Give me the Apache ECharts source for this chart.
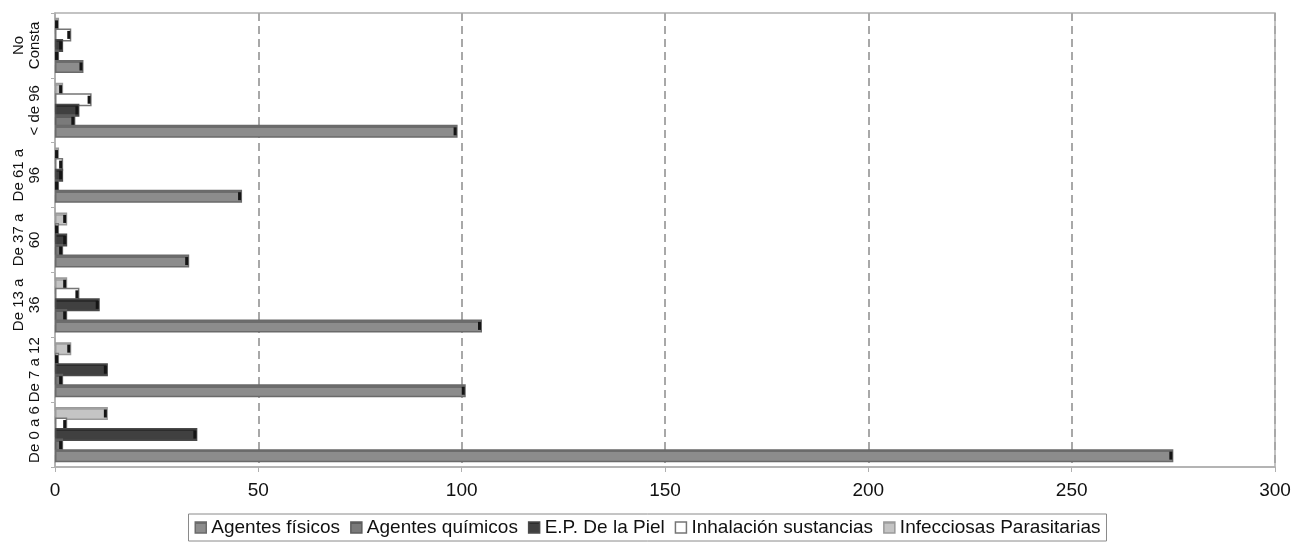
<!DOCTYPE html>
<html>
<head>
<meta charset="utf-8">
<script src="https://cdn.jsdelivr.net/npm/echarts@6/dist/echarts.min.js"></script>
<style>
html,body{margin:0;padding:0;background:#fff;}
#chart{width:1295px;height:542px;}
</style>
</head>
<body>
<div id="chart"></div>
<script>
// Categories (bottom to top)
const categories = ['De 0 a 6', 'De 7 a 12', 'De 13 a\n36', 'De 37 a\n60', 'De 61 a\n96', '< de 96', 'No\nConsta'];
const seriesNames = ['Agentes físicos', 'Agentes químicos', 'E.P. De la Piel', 'Inhalación sustancias', 'Infecciosas Parasitarias'];
const agentesFisicos = [275, 101, 105, 33, 46, 99, 7];
const agentesQuimicos = [2, 2, 3, 2, 1, 5, 1];
const epPiel = [35, 13, 11, 3, 2, 6, 2];
const inhalacion = [3, 1, 6, 1, 2, 9, 4];
const infecciosas = [13, 4, 3, 3, 1, 2, 1];
const xTicks = [0, 50, 100, 150, 200, 250, 300];

const styles = [
  {face: '#8c8c8c', top: '#6c6c6c', border: '#6a6a6a'},
  {face: '#7a7a7a', top: '#5c5c5c', border: '#5e5e5e'},
  {face: '#404040', top: '#2c2c2c', border: '#4a4a4a'},
  {face: '#ffffff', top: '#ffffff', border: '#757575'},
  {face: '#c4c4c4', top: '#a8a8a8', border: '#9a9a9a'}
];
const dataSets = [agentesFisicos, agentesQuimicos, epPiel, inhalacion, infecciosas];

const chart = echarts.init(document.getElementById('chart'), null, {renderer: 'canvas'});

// ECharts stacks horizontal groups top-down, so add series in reverse
const series = [];
for (let i = dataSets.length - 1; i >= 0; i--) {
  series.push({
    name: seriesNames[i],
    type: 'bar',
    data: dataSets[i],
    barGap: '-19%',
    barCategoryGap: '15%',
    itemStyle: {
      color: new echarts.graphic.LinearGradient(0, 0, 0, 1, [
        {offset: 0, color: styles[i].top},
        {offset: 0.25, color: styles[i].top},
        {offset: 0.25, color: styles[i].face},
        {offset: 1, color: styles[i].face}
      ]),
      borderColor: styles[i].border,
      borderWidth: 1.5
    },
    label: {
      show: true,
      position: 'insideRight',
      distance: 1,
      formatter: '{m| }',
      rich: {m: {width: 3, height: 8, backgroundColor: '#151515', fontSize: 1}}
    },
    emphasis: {disabled: true},
    animation: false
  });
}

chart.setOption({
  animation: false,
  textStyle: {fontFamily: 'Liberation Sans, Arial, sans-serif'},
  grid: {
    left: 55, right: 20, top: 13, bottom: 75,
    show: true, borderColor: '#b0b0b0', borderWidth: 1.5
  },
  legend: {
    bottom: 1,
    left: 'center',
    data: seriesNames,
    icon: 'rect',
    itemWidth: 11,
    itemHeight: 11,
    itemGap: 10,
    padding: [4, 6, 4, 6],
    borderColor: '#8a8a8a',
    borderWidth: 1,
    textStyle: {fontSize: 19, color: '#111', fontFamily: 'Liberation Sans, Arial, sans-serif'},
    itemStyle: {borderWidth: 1.5}
  },
  xAxis: {
    type: 'value',
    min: xTicks[0],
    max: xTicks[xTicks.length - 1],
    interval: 50,
    axisLine: {show: true, lineStyle: {color: '#b0b0b0', width: 1.5}},
    axisTick: {show: true, length: 5, lineStyle: {color: '#b0b0b0'}},
    axisLabel: {fontSize: 19, color: '#111', margin: 14},
    splitLine: {show: true, lineStyle: {color: '#a8a8a8', width: 2, type: [8, 5]}}
  },
  yAxis: {
    type: 'category',
    data: categories,
    axisLine: {show: true, lineStyle: {color: '#b0b0b0', width: 1.5}},
    axisTick: {show: true, length: 4, lineStyle: {color: '#b0b0b0'}},
    axisLabel: {interval: 0, rotate: 90, fontSize: 15, color: '#111', margin: 12, lineHeight: 16, align: 'center'},
    splitLine: {show: false}
  },
  series: series
});
</script>
</body>
</html>
